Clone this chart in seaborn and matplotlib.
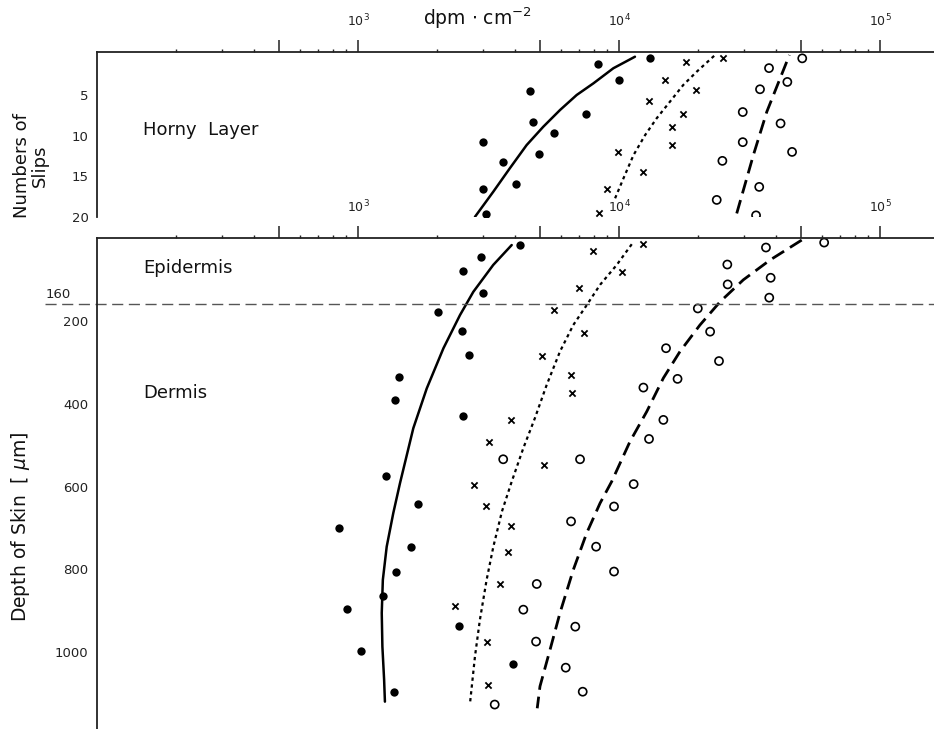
import numpy as np
import pandas as pd
import matplotlib
matplotlib.use("Agg")
import matplotlib.pyplot as plt
import matplotlib.ticker as mticker
import matplotlib.transforms as mtransforms
import seaborn as sns

# ---- data (dpm/cm^2 vs. slip number / depth) ----
# Horny layer (stripping slips)
slip_dot_x = [13150, 8340, 10000, 4560, 4700, 7480, 5650, 3020, 4930, 3580, 4030, 3010, 3090]
slip_dot_y = [0.5, 1.2, 3.2, 4.5, 8.3, 7.3, 9.7, 10.8, 12.3, 13.2, 15.9, 16.5, 19.6]
slip_x_x = [18070, 25120, 15000, 19720, 13030, 17540, 16000, 15910, 9880, 12400, 8980, 8410]
slip_x_y = [1.0, 0.5, 3.2, 4.4, 5.7, 7.3, 8.9, 11.2, 12.0, 14.5, 16.6, 19.5]
slip_o_x = [50350, 37560, 44150, 34690, 29790, 41590, 29790, 46030, 24890, 34450, 23680, 33500]
slip_o_y = [0.5, 1.7, 3.4, 4.3, 7.1, 8.5, 10.8, 12.0, 13.1, 16.3, 17.9, 19.8]

slip_solid_x = [2806, 3297, 3819, 4426, 5129, 5943, 6886, 7980, 9510, 11510]
slip_solid_y = [19.98, 16.9, 14.0, 11.16, 8.9, 6.85, 5.0, 3.57, 1.72, 0.3]
slip_dot_line_x = [9660, 10400, 11360, 12590, 13940, 15670, 17620, 19850, 23330]
slip_dot_line_y = [17.7, 15.25, 12.4, 9.93, 7.87, 5.83, 3.78, 2.14, 0.09]
slip_dash_x = [28250, 32720, 36840, 44970]
slip_dash_y = [19.56, 12.39, 7.06, 0.09]

# Skin (epidermis + dermis)
skin_dot_x = [4180, 2950, 2520, 3000, 2030, 2510, 2670, 1440, 1390, 2530, 1280, 1700,
              846, 1590, 1400, 1250, 910, 2430, 1024, 1377, 3910]
skin_dot_y = [18, 47, 79, 132, 178, 224, 282, 335, 392, 429, 574, 642,
              700, 745, 807, 863, 896, 936, 996, 1095, 1028]
skin_x_x = [12330, 7980, 10300, 7050, 5650, 7360, 5060, 6550, 6620, 3860, 3180, 5180,
            2780, 3090, 3860, 3760, 3500, 2360, 3110, 3160]
skin_x_y = [15, 31, 83, 121, 174, 230, 284, 330, 375, 439, 493, 549,
            596, 646, 694, 759, 835, 888, 974, 1080]
skin_o_x = [61090, 36560, 26000, 38110, 26080, 37640, 20040, 22340, 15140, 24160, 16760,
            12400, 14790, 13030, 3600, 7090, 11380, 9570, 6550, 8170, 9570, 4840, 4300,
            6800, 4810, 6250, 7260, 3340]
skin_o_y = [11, 23, 64, 96, 112, 144, 170, 226, 266, 297, 340, 361, 439, 485, 534, 534,
            594, 648, 684, 745, 805, 835, 897, 938, 974, 1037, 1095, 1126]

skin_solid_x = [3880, 3297, 2765, 2459, 2125, 1834, 1629, 1448, 1365, 1288, 1245, 1233,
                1240, 1259, 1268]
skin_solid_y = [17, 65, 130, 186, 266, 363, 459, 592, 664, 745, 825, 905, 986, 1066, 1119]
skin_dot_line_x = [11190, 9800, 8460, 7520, 6680, 5940, 5280, 4760, 4300, 3880, 3560,
                   3300, 3110, 2930, 2806, 2686]
skin_dot_line_y = [15, 65, 113, 162, 210, 274, 355, 435, 507, 588, 660, 745, 825, 922,
                   1010, 1123]
skin_dash_x = [50120, 37930, 29940, 24380, 20420, 17120, 14790, 12770, 11020, 9370, 8460,
               7520, 6680, 5940, 5440, 4980, 4860]
skin_dash_y = [5, 53, 101, 154, 210, 274, 338, 419, 491, 588, 640, 712, 801, 905, 994,
               1082, 1135]

boundary_depth = 160
decades = [1e3, 1e4, 1e5]

sns.set_style("white")
plt.rcParams['font.family'] = ['DejaVu Sans']

fig = plt.figure(figsize=(9.34, 7.29), dpi=100)
W, H = 934, 729
ax1 = fig.add_axes([97 / W, 1 - 217 / H, 1 - 97 / W, (217 - 52) / H])
ax2 = fig.add_axes([97 / W, 0.0, 1 - 97 / W, 1 - 238 / H])


def style_axis(ax):
    ax.set_xscale("log")
    ax.set_xlim(100, 1.61e5)
    for s in ["right", "bottom"]:
        ax.spines[s].set_visible(False)
    for s in ["left", "top"]:
        ax.spines[s].set_linewidth(1.3)
        ax.spines[s].set_color("#222222")
    major = [m * 10 ** e for e in (2, 3, 4, 5) for m in (1, 5)][1:]
    minor = [m * 10 ** e for e in (2, 3, 4, 5) for m in (2, 3, 4, 6, 7, 8, 9)]
    ax.xaxis.set_major_locator(mticker.FixedLocator(major))
    ax.xaxis.set_minor_locator(mticker.FixedLocator(minor))
    ax.xaxis.set_major_formatter(mticker.FuncFormatter(
        lambda v, p: r"$10^{%d}$" % round(np.log10(v)) if v in decades else ""))
    ax.xaxis.set_minor_formatter(mticker.NullFormatter())
    ax.xaxis.tick_top()
    ax.tick_params(axis="x", which="major", direction="out", length=8.5, width=1.1,
                   labelsize=9, pad=8, colors="#222222")
    ax.tick_params(axis="x", which="minor", direction="out", length=2.5, width=1.0)
    ax.tick_params(axis="y", which="both", direction="out", length=2.5, width=1.0,
                   labelsize=9.5, colors="#222222")
    ax.set_xlabel("")
    ax.set_ylabel("")


def draw_set(ax, dot_x, dot_y, x_x, x_y, o_x, o_y, lines):
    sns.scatterplot(x=dot_x, y=dot_y, ax=ax, marker="o", s=36, color="black",
                    edgecolor="black", linewidth=0)
    sns.scatterplot(x=x_x, y=x_y, ax=ax, marker="x", s=20, color="black", linewidth=1.3)
    sns.scatterplot(x=o_x, y=o_y, ax=ax, marker="o", s=34, facecolors="none",
                    edgecolor="black", linewidth=1.2)
    for lx, ly, kw in lines:
        sns.lineplot(x=lx, y=ly, ax=ax, sort=False, estimator=None, color="black", **kw)


draw_set(ax1, slip_dot_x, slip_dot_y, slip_x_x, slip_x_y, slip_o_x, slip_o_y, [
    (slip_solid_x, slip_solid_y, dict(linewidth=1.8)),
    (slip_dot_line_x, slip_dot_line_y, dict(linewidth=1.6, dashes=(1.5, 1.6))),
    (slip_dash_x, slip_dash_y, dict(linewidth=2.0, dashes=(5, 2.5))),
])
draw_set(ax2, skin_dot_x, skin_dot_y, skin_x_x, skin_x_y, skin_o_x, skin_o_y, [
    (skin_solid_x, skin_solid_y, dict(linewidth=1.8)),
    (skin_dot_line_x, skin_dot_line_y, dict(linewidth=1.6, dashes=(1.5, 1.6))),
    (skin_dash_x, skin_dash_y, dict(linewidth=2.0, dashes=(5, 2.5))),
])

style_axis(ax1)
style_axis(ax2)

ax1.set_ylim(20, -0.28)
ax1.set_yticks([5, 10, 15, 20])
ax2.set_ylim(1185, 0)
ax2.set_yticks([200, 400, 600, 800, 1000])
ax2.set_yticks([100, 300, 500, 700, 900, 1100], minor=True)

# epidermis / dermis boundary
tr = mtransforms.blended_transform_factory(ax2.transAxes, ax2.transData)
ax2.plot([-0.062, 1.0], [boundary_depth, boundary_depth], transform=tr, clip_on=False,
         color="#555555", linewidth=1.0, dashes=(8, 4))
ax2.text(-0.062, boundary_depth - 8, str(boundary_depth), transform=tr, ha="left",
         va="bottom", fontsize=9.5, color="#222222")

ax1.text(143 / W, 1 - 130 / H, "Horny  Layer", transform=fig.transFigure, fontsize=13,
         va="center", color="#111111")
ax2.text(143 / W, 1 - 268 / H, "Epidermis", transform=fig.transFigure, fontsize=13,
         va="center", color="#111111")
ax2.text(143 / W, 1 - 393 / H, "Dermis", transform=fig.transFigure, fontsize=13,
         va="center", color="#111111")

fig.text(477 / W, 1 - 18 / H, r"dpm $\cdot$ cm$^{-2}$", ha="center", va="center",
         fontsize=13.5, color="#111111")
fig.text(31 / W, 1 - 166 / H, "Numbers of\nSlips", rotation=90, ha="center",
         va="center", multialignment="center", fontsize=13, linespacing=1.0,
         color="#111111")
fig.text(21 / W, 1 - 527 / H, r"Depth of Skin  [ $\mu$m]", rotation=90, ha="center",
         va="center", fontsize=13.5, color="#111111")

fig.savefig("out.png", dpi=100)
